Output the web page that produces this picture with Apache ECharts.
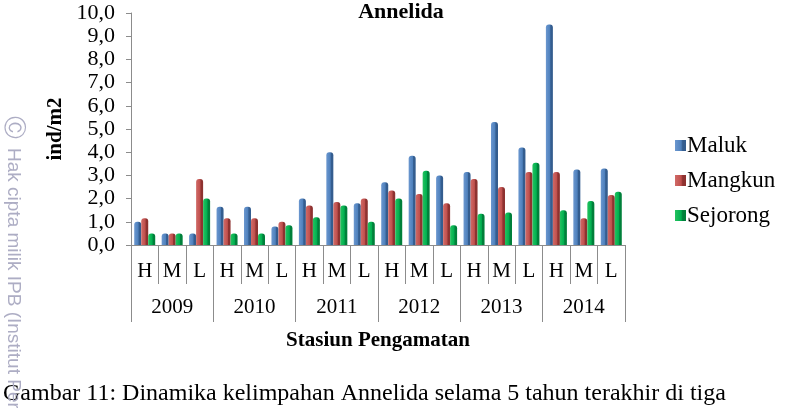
<!DOCTYPE html>
<html>
<head>
<meta charset="utf-8">
<script src="https://cdn.jsdelivr.net/npm/echarts@6/dist/echarts.min.js"></script>
<style>
html,body{margin:0;padding:0;background:#fff;}
#c{width:792px;height:408px;}
</style>
</head>
<body>
<div id="c"></div>
<script>
const stations = ['H','M','L','H','M','L','H','M','L','H','M','L','H','M','L','H','M','L'];
const years = ['2009','2010','2011','2012','2013','2014'];
const maluk    = [1.0, 0.5, 0.5, 1.65, 1.65, 0.8, 2.0, 4.0, 1.8, 2.7, 3.85, 3.0, 3.15, 5.3, 4.2, 9.5, 3.25, 3.3];
const mangkun  = [1.15, 0.5, 2.85, 1.15, 1.15, 1.0, 1.7, 1.85, 2.0, 2.35, 2.2, 1.8, 2.85, 2.5, 3.15, 3.15, 1.15, 2.15];
const sejorong = [0.5, 0.5, 2.0, 0.5, 0.5, 0.85, 1.2, 1.7, 1.0, 2.0, 3.2, 0.85, 1.35, 1.4, 3.55, 1.5, 1.9, 2.3];
const seriesNames = ['Maluk','Mangkun','Sejorong'];

const serif = '"Liberation Serif", "Times New Roman", serif';
const cols = [
  ['#6b97cf','#4f81bd','#345d8f'],
  ['#d06a67','#c0504d','#8e3230'],
  ['#25c25f','#00b050','#00803a']
];
function grad(c){
  return new echarts.graphic.LinearGradient(0,0,1,0,[
    {offset:0,color:c[0]},{offset:0.55,color:c[1]},{offset:0.7,color:c[2]},{offset:1,color:c[2]}
  ]);
}
const chart = echarts.init(document.getElementById('c'), null, {renderer:'canvas'});
const dataSets = [maluk, mangkun, sejorong];
const wm = '#adadc4';
chart.setOption({
  animation:false,
  backgroundColor:'#fff',
  color:['#4f81bd','#c0504d','#00b050'],
  title:{text:'Annelida',left:401,textAlign:'center',top:1,padding:0,
    textStyle:{fontFamily:serif,fontSize:22,fontWeight:'bold',color:'#000'}},
  legend:{
    orient:'vertical', left:675, top:134, itemGap:12, itemWidth:11, itemHeight:11, padding:0,
    icon:'rect', data:seriesNames,
    textStyle:{fontFamily:serif,fontSize:23,color:'#000',padding:[0,0,0,-4]}
  },
  grid:{left:131,right:167,top:13,bottom:163,containLabel:false},
  xAxis:[{
    type:'category', data:stations, position:'bottom',
    axisLine:{show:true,lineStyle:{color:'#8c8c8c',width:1}},
    axisTick:{show:true,length:39,interval:0,lineStyle:{color:'#8c8c8c'}},
    axisLabel:{interval:0,margin:16,fontFamily:serif,fontSize:21,color:'#000'}
  },{
    type:'category', data:years, position:'bottom', gridIndex:0,
    axisLine:{show:false},
    axisTick:{show:true,length:77,interval:0,lineStyle:{color:'#8c8c8c'}},
    axisLabel:{interval:0,margin:52,fontFamily:serif,fontSize:21,color:'#000'}
  }],
  yAxis:{
    type:'value', min:0, max:10, interval:1,
    name:'ind/m2', nameLocation:'middle', nameGap:64, nameRotate:90,
    nameTextStyle:{fontFamily:serif,fontSize:21,fontWeight:'bold',color:'#000'},
    axisLine:{show:true,lineStyle:{color:'#8c8c8c'}},
    axisTick:{show:true,length:5,lineStyle:{color:'#8c8c8c'}},
    splitLine:{show:false},
    axisLabel:{margin:16,fontFamily:serif,fontSize:22,color:'#000',
      formatter:function(v){return v.toFixed(1).replace('.',',');}}
  },
  series: dataSets.map(function(d,i){
    return {
      name:seriesNames[i], type:'bar', xAxisIndex:0, data:d,
      barWidth:7, barGap:'0%',
      itemStyle:{color:grad(cols[i]), borderRadius:[3,3,0,0]},
      emphasis:{disabled:true}
    };
  }),
  graphic:[
    {type:'text',x:378,y:330,style:{text:'Stasiun Pengamatan',textAlign:'center',
      font:'bold 21px '+serif,fill:'#000'}},
    {type:'text',x:3,y:382,style:{text:'Gambar 11: Dinamika kelimpahan Annelida selama 5 tahun terakhir di tiga',
      font:'24px '+serif,fill:'#000'}},
    {type:'text',x:24,y:116,rotation:-Math.PI/2,style:{text:'\u24B8',textVerticalAlign:'top',font:'23px "DejaVu Sans", sans-serif',fill:wm}},
    {type:'text',x:23,y:148,rotation:-Math.PI/2,style:{text:'Hak cipta milik IPB (Institut Pertanian Bogor)',textVerticalAlign:'top',font:'19px "Liberation Sans", Arial, sans-serif',fill:wm}}
  ]
});
</script>
</body>
</html>
